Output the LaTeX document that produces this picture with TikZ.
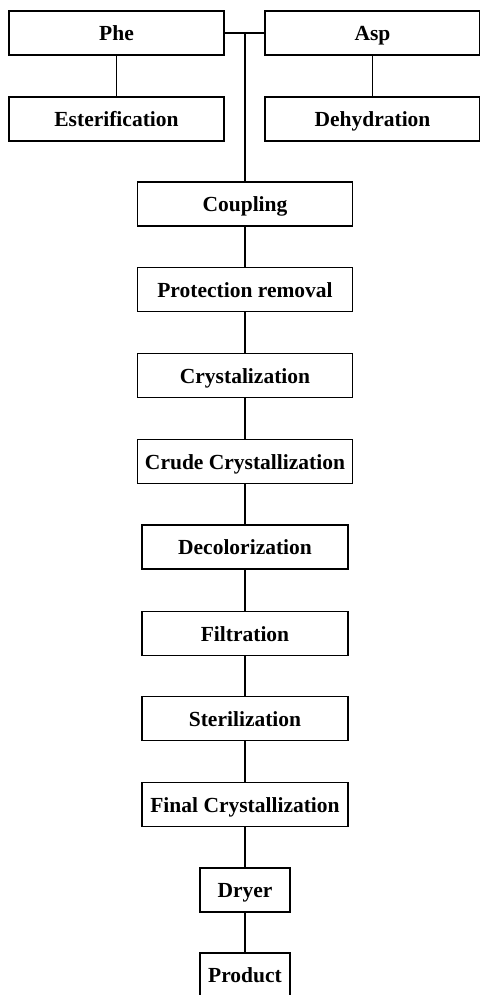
\documentclass[tikz,border=0pt]{standalone}
\usepackage{fontspec}
\setmainfont{Liberation Serif}
\usetikzlibrary{positioning}

\begin{document}
\begin{tikzpicture}[x=1pt,y=-1pt,
		line width=1.6pt,
		stage/.style={draw,line width=1.6pt,minimum height=44pt,inner sep=0pt,
			text height=16pt,text depth=1pt,
			font=\fontsize{21.5}{24}\selectfont\bfseries},
		wide/.style={stage,minimum width=215pt},
		mid/.style={stage,minimum width=206pt},
		narrow/.style={stage,minimum width=90pt}]
		\useasboundingbox (0,0) rectangle (479,995);
		
		% Define points
		\coordinate (J) at (245,33);
		
		% Raw materials
		\node[wide] (phe) at (116.5,33) {Phe};
		\node[wide] (asp) at (372.5,33) {Asp};
		\node[wide] (est) at (116.5,119) {Esterification};
		\node[wide] (deh) at (372.5,119) {Dehydration};
		
		% Main line
		\node[wide] (coup) at (245,204) {Coupling};
		\node[wide] (prot) at (245,289.5) {Protection removal};
		\node[wide] (cryst) at (245,375.5) {Crystalization};
		\node[wide] (crude) at (245,461.5) {Crude Crystallization};
		\node[mid] (decol) at (245,547) {Decolorization};
		\node[mid] (filt) at (245,633.5) {Filtration};
		\node[mid] (ster) at (245,718.5) {Sterilization};
		\node[mid] (final) at (245,804.5) {Final Crystallization};
		\node[narrow] (dry) at (245,890) {Dryer};
		\node[narrow] (prod) at (245,975) {Product};
		
		% Draw connections
		\draw (phe) -- (est);
		\draw (asp) -- (deh);
		\draw (phe.east) -- (asp.west);
		\draw (J) -- (coup.north);
		\draw (coup) -- (prot);
		\draw (prot) -- (cryst);
		\draw (cryst) -- (crude);
		\draw (crude) -- (decol);
		\draw (decol) -- (filt);
		\draw (filt) -- (ster);
		\draw (ster) -- (final);
		\draw (final) -- (dry);
		\draw (dry) -- (prod);
	\end{tikzpicture}
\end{document}
